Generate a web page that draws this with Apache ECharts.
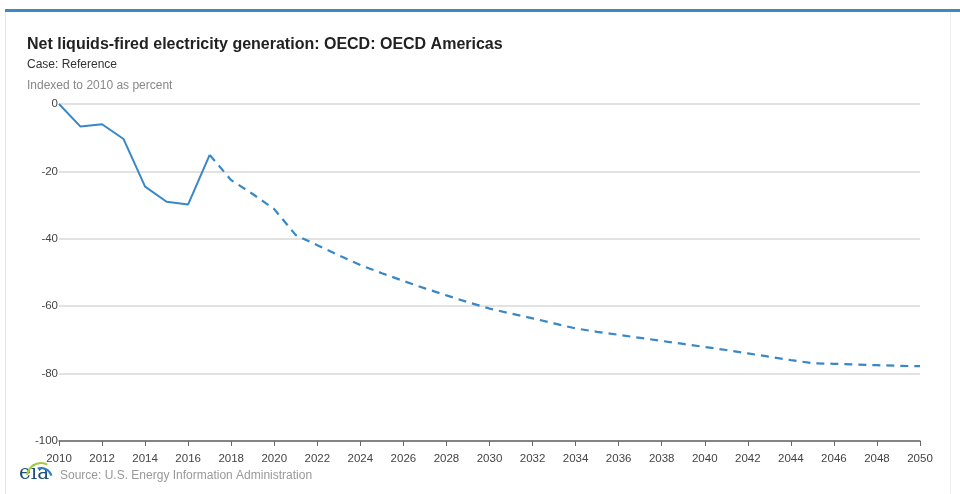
<!DOCTYPE html>
<html>
<head>
<meta charset="utf-8">
<script src="https://cdn.jsdelivr.net/npm/echarts@6/dist/echarts.min.js"></script>
<style>
html,body{margin:0;padding:0;background:#fff;}
#chart{width:960px;height:494px;}
</style>
</head>
<body>
<div id="chart"></div>
<script>
// Data
const historyYears = [2010, 2011, 2012, 2013, 2014, 2015, 2016, 2017];
const historyValues = [0, -6.7, -6.0, -10.4, -24.5, -29.0, -29.8, -15.1];

const projectionYears = [2017, 2018, 2019, 2020, 2021, 2022, 2023, 2024, 2025, 2026, 2027, 2028, 2029, 2030,
  2031, 2032, 2033, 2034, 2035, 2036, 2037, 2038, 2039, 2040, 2041, 2042, 2043, 2044, 2045, 2046, 2047, 2048, 2049, 2050];
const projectionValues = [-15.1, -22.6, -26.7, -31.2, -38.9, -41.9, -44.9, -47.8, -50.2, -52.5, -54.7, -56.8, -58.8, -60.7,
  -62.2, -63.6, -65.1, -66.6, -67.6, -68.5, -69.4, -70.3, -71.2, -72.1, -73.0, -74.0, -75.0, -76.0, -76.9, -77.1, -77.3, -77.5, -77.7, -77.8];

const titleText = 'Net liquids-fired electricity generation: OECD: OECD Americas';
const caseText = 'Case: Reference';
const unitText = 'Indexed to 2010 as percent';
const sourceText = 'Source: U.S. Energy Information Administration';

const pair = (xs, ys) => xs.map((x, i) => [x, ys[i]]);
const lineColor = '#3987c6';
const font = 'Arial, "Liberation Sans", sans-serif';

const chart = echarts.init(document.getElementById('chart'), null, {renderer: 'canvas'});
chart.setOption({
  backgroundColor: '#fff',
  animation: false,
  title: [
    {text: titleText, left: 22, top: 32, textStyle: {fontFamily: font, fontSize: 16, fontWeight: 'bold', color: '#222'}},
    {text: caseText, left: 22, top: 54, textStyle: {fontFamily: font, fontSize: 12, fontWeight: 'normal', color: '#333'}},
    {text: unitText, left: 22, top: 75, textStyle: {fontFamily: font, fontSize: 12, fontWeight: 'normal', color: '#888'}},
    {text: sourceText, left: 55, top: 465, textStyle: {fontFamily: font, fontSize: 12, fontWeight: 'normal', color: '#999'}}
  ],
  graphic: [
    {type: 'rect', shape: {x: 5, y: 9, width: 955, height: 3}, style: {fill: '#3d88c9'}},
    {type: 'line', shape: {x1: 5.5, y1: 12, x2: 5.5, y2: 494}, style: {stroke: '#e6e6e6', lineWidth: 1}},
    {type: 'line', shape: {x1: 950.5, y1: 12, x2: 950.5, y2: 494}, style: {stroke: '#eeeeee', lineWidth: 1}},
    {type: 'text', left: 19, top: 464, style: {text: 'eia', fontFamily: '"DejaVu Serif", "Liberation Serif", serif', fontSize: 20, fill: '#1f4e79'}},
    {type: 'arc', shape: {cx: 41, cy: 477, r: 14, startAngle: -Math.PI * 0.95, endAngle: -Math.PI * 0.35}, style: {stroke: '#a8c940', lineWidth: 2, fill: null}},
    {type: 'arc', shape: {cx: 41, cy: 479, r: 11, startAngle: -Math.PI * 0.6, endAngle: -Math.PI * 0.1}, style: {stroke: '#2f7fc1', lineWidth: 2, fill: null}}
  ],
  grid: {left: 59, right: 40, top: 104, bottom: 53, containLabel: false},
  xAxis: {
    type: 'value', min: 2010, max: 2050, interval: 2,
    axisLine: {show: true, onZero: false, lineStyle: {color: '#666', width: 1.5}},
    axisTick: {show: true, length: 5, lineStyle: {color: '#666'}},
    axisLabel: {formatter: v => String(v), color: '#444', fontFamily: font, fontSize: 11.5, margin: 12},
    splitLine: {show: false}
  },
  yAxis: {
    type: 'value', min: -100, max: 0, interval: 20,
    axisLine: {show: false},
    axisTick: {show: false},
    axisLabel: {color: '#444', fontFamily: font, fontSize: 11.5, margin: 1},
    splitLine: {show: true, lineStyle: {color: '#d9d9d9', width: 1.5}}
  },
  series: [
    {type: 'line', data: pair(historyYears, historyValues), showSymbol: false, symbol: 'none',
      lineStyle: {color: lineColor, width: 2}},
    {type: 'line', data: pair(projectionYears, projectionValues), showSymbol: false, symbol: 'none',
      lineStyle: {color: lineColor, width: 2.2, type: [8, 6]}}
  ]
});
</script>
</body>
</html>
